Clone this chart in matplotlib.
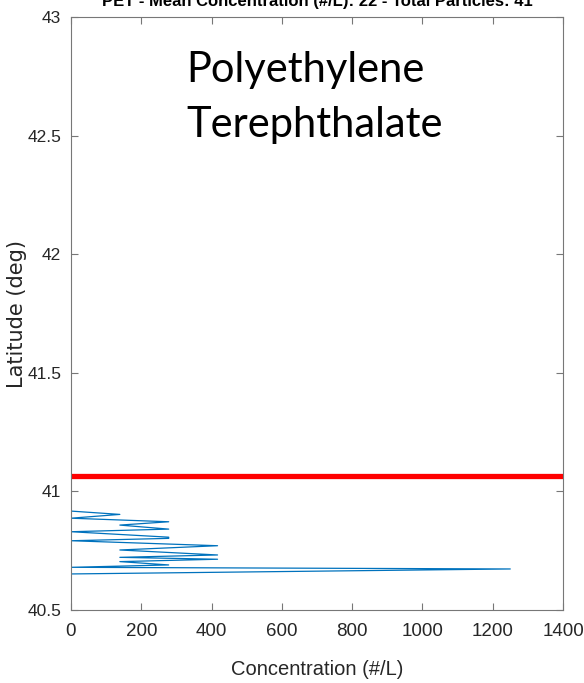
import matplotlib
matplotlib.use("Agg")
import matplotlib.pyplot as plt

# Data
latitude = [43.0, 40.917, 40.903, 40.887, 40.872, 40.858, 40.841, 40.830,
            40.807, 40.802, 40.792, 40.771, 40.753, 40.732, 40.722, 40.714,
            40.704, 40.690, 40.680, 40.673, 40.652, 40.5]
concentration = [0, 0, 139, 0, 278, 139, 278, 0,
                 278, 278, 0, 417, 139, 417, 139, 417,
                 139, 278, 0, 1250, 0, 0]
threshold_lat = 41.065
xticks = [0, 200, 400, 600, 800, 1000, 1200, 1400]
yticks = [40.5, 41, 41.5, 42, 42.5, 43]
ytick_labels = ["40.5", "41", "41.5", "42", "42.5", "43"]
title = "PET - Mean Concentration (#/L): 22 - Total Particles: 41"

arial = ["Liberation Sans", "DejaVu Sans"]

fig = plt.figure(figsize=(5.84, 6.83), dpi=100)
ax = fig.add_axes([71/584, 1-610/683, (563-71)/584, (610-17)/683])

ax.plot(concentration, latitude, color="#0072BD", lw=0.9)
ax.axhline(threshold_lat, color="red", lw=3.8)

ax.set_xlim(0, 1400)
ax.set_ylim(40.5, 43)
ax.set_xticks(xticks)
ax.set_yticks(yticks)
ax.set_yticklabels(ytick_labels)
ax.tick_params(direction="in", length=5, width=0.8, color="#777777",
               top=True, right=True, labelcolor="#262626")
ax.tick_params(axis="x", pad=9, labelsize=13.5)
ax.tick_params(axis="y", pad=7, labelsize=12.5)
for lab in ax.get_xticklabels() + ax.get_yticklabels():
    lab.set_family(arial)
for sp in ax.spines.values():
    sp.set_color("#777777")
    sp.set_linewidth(0.8)

ax.set_xlabel("Concentration (#/L)", family=arial, fontsize=14.5, color="#262626")
ax.xaxis.set_label_coords(0.5, (610 - 660) / 593)
ax.set_ylabel("Latitude (deg)", family=["DejaVu Sans"], fontsize=15, color="#262626")
ax.yaxis.set_label_coords((27 - 71) / 492, 0.5)
ax.set_title(title, family=arial, fontsize=12, fontweight="bold", pad=8, color="black")

fig.text(305/584, 1-82/683, "Polyethylene", family=["Lato", "DejaVu Sans"],
         fontsize=30, ha="center", va="baseline")
fig.text(315/584, 1-137/683, "Terephthalate", family=["Lato", "DejaVu Sans"],
         fontsize=30, ha="center", va="baseline")

fig.savefig("out.png", dpi=100)
